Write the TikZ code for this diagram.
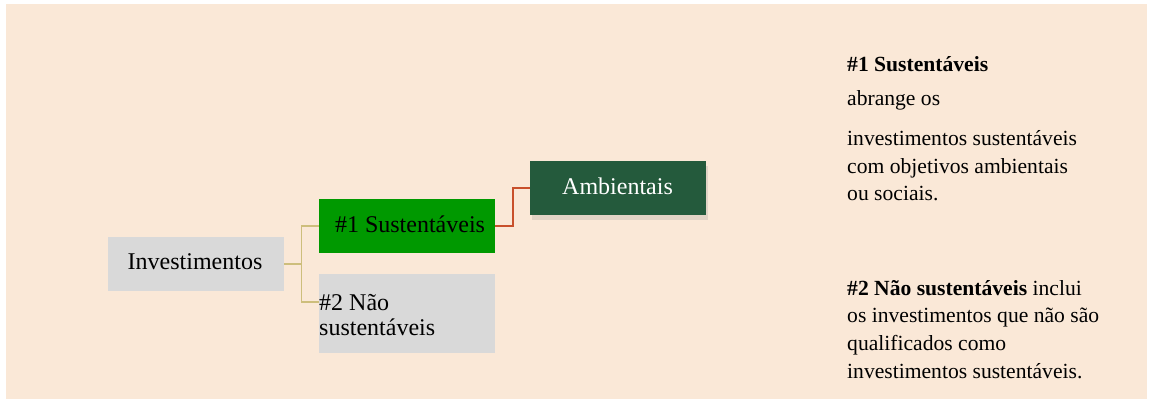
\documentclass[tikz,border=0pt]{standalone}
\usepackage{fontspec}
\setmainfont{Liberation Serif}
\usetikzlibrary{shadows}
\definecolor{bgpeach}{RGB}{250,232,215}
\definecolor{boxgray}{RGB}{217,217,217}
\definecolor{boxgreen}{RGB}{0,153,0}
\definecolor{darkgreen}{RGB}{36,90,60}
\definecolor{tanline}{RGB}{205,190,124}
\definecolor{redline}{RGB}{200,80,44}
\tikzset{
  box/.style={inner sep=0pt, outer sep=0pt, minimum width=176pt, font=\fontsize{24}{28}\selectfont},
  notetext/.style={anchor=base west, inner sep=0pt, font=\fontsize{21.6}{27}\selectfont},
  tanconn/.style={draw=tanline, line width=1.6pt},
  redconn/.style={draw=redline, line width=2pt}
}
\begin{document}
\begin{tikzpicture}[x=1pt,y=-1pt]
\useasboundingbox (0,0) rectangle (1151,403);
\fill[bgpeach] (6,4) rectangle (1147,399);
% boxes
\node[box, fill=boxgray, minimum height=54pt] (inv) at (196,264) {};
\node[anchor=base, font=\fontsize{24}{28}\selectfont, inner sep=0pt] (invt) at (195,270) {Investimentos};
\node[box, fill=boxgreen, minimum height=54pt] (s1) at (407,226) {};
\node[anchor=base, font=\fontsize{24}{28}\selectfont, inner sep=0pt] (s1t) at (410,233) {\#1 Sustentáveis};
\node[box, fill=boxgray, minimum height=79pt] (s2) at (407,313.5) {};
\node[anchor=base west, font=\fontsize{24}{28}\selectfont, inner sep=0pt] (s2a) at (319,311) {\#2 Não};
\node[anchor=base west, font=\fontsize{24}{28}\selectfont, inner sep=0pt] (s2b) at (319,335) {sustentáveis};
\node[box, fill=darkgreen, minimum height=54pt, text=white,
      drop shadow={opacity=0.2, shadow xshift=2pt, shadow yshift=-5pt}] (amb) at (617.5,188) {};
\node[anchor=base, font=\fontsize{24}{28}\selectfont, inner sep=0pt, text=white] (ambt) at (617.5,195) {Ambientais};
% connectors
\coordinate (j1) at (301.5,264);
\coordinate (b2) at (319,302);
\draw[tanconn] (inv.east) -- (j1) |- (s1.west);
\draw[tanconn] (j1) |- (b2);
\coordinate (j2) at (512.5,226);
\draw[redconn] (s1.east) -- (j2) |- (amb.west);
% notes
\node[notetext] (n1) at (847,72) {\textbf{\#1 Sustentáveis}};
\node[notetext] (n2) at (847,105.5) {abrange os};
\node[notetext] (n3) at (847,146) {investimentos sustentáveis};
\node[notetext] (n4) at (847,173.5) {com objetivos ambientais};
\node[notetext] (n5) at (847,201) {ou sociais.};
\node[notetext] (n6) at (847,295.5) {\textbf{\#2 Não sustentáveis} inclui};
\node[notetext] (n7) at (847,323) {os investimentos que não são};
\node[notetext] (n8) at (847,350.5) {qualificados como};
\node[notetext] (n9) at (847,378) {investimentos sustentáveis.};
\end{tikzpicture}
\end{document}
